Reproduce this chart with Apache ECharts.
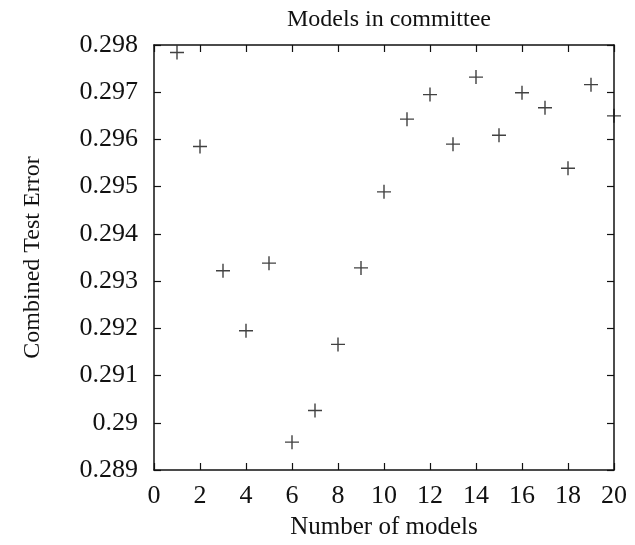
<!DOCTYPE html>
<html>
<head>
<meta charset="utf-8">
<style>
  html, body { margin: 0; padding: 0; background: #fff; }
  #chart { width: 635px; height: 545px; }
</style>
<script src="https://cdn.jsdelivr.net/npm/echarts@6/dist/echarts.min.js"></script>
</head>
<body>
<div id="chart"></div>
<script>
// Committee size vs. combined test error
const modelCounts = [1, 2, 3, 4, 5, 6, 7, 8, 9, 10, 11, 12, 13, 14, 15, 16, 17, 18, 19, 20];
const testErrors = [
  0.29784, 0.29585, 0.29322, 0.29195, 0.29338, 0.28959, 0.29026, 0.29166, 0.29328, 0.29489,
  0.29643, 0.29695, 0.29590, 0.29732, 0.29609, 0.29699, 0.29667, 0.29539, 0.29716, 0.29650
];
const xTickLabels = ['0', '2', '4', '6', '8', '10', '12', '14', '16', '18', '20'];
const yTickLabels = ['0.289', '0.29', '0.291', '0.292', '0.293', '0.294', '0.295', '0.296', '0.297', '0.298'];

const X_MIN = 0, X_MAX = 20, X_STEP = 2;
const Y_MIN = 0.289, Y_MAX = 0.298, Y_STEP = 0.001;

const FONT = '"Liberation Serif", "DejaVu Serif", serif';
const INK = '#111';

// thin "+" glyph, filled as a polygon so it renders crisply
const PLUS = 'path://M6.3,0H7.7V6.3H14V7.7H7.7V14H6.3V7.7H0V6.3H6.3Z';

const xLabel = v => xTickLabels[Math.round((v - X_MIN) / X_STEP)] ?? '';
const yLabel = v => yTickLabels[Math.round((v - Y_MIN) / Y_STEP)] ?? '';

const frameLine = { show: true, onZero: false, lineStyle: { color: INK, width: 1.5 } };
const innerTick = { show: true, inside: true, length: 7, lineStyle: { color: INK, width: 1.2 } };

const chart = echarts.init(document.getElementById('chart'), null, { renderer: 'canvas' });
chart.setOption({
  animation: false,
  backgroundColor: '#fff',
  title: {
    text: 'Models in committee',
    left: 384,
    top: 3,
    textAlign: 'center',
    textStyle: { fontFamily: FONT, fontSize: 24, fontWeight: 'normal', color: INK }
  },
  grid: { left: 154, right: 21, top: 45, bottom: 71, containLabel: false },
  xAxis: [
    {
      type: 'value', position: 'bottom',
      min: X_MIN, max: X_MAX, interval: X_STEP,
      name: 'Number of models', nameLocation: 'middle', nameGap: 45,
      nameTextStyle: { fontFamily: FONT, fontSize: 25, color: INK },
      axisLine: frameLine, axisTick: innerTick, splitLine: { show: false },
      axisLabel: { formatter: xLabel, fontFamily: FONT, fontSize: 26, color: INK, margin: 13 }
    },
    {
      type: 'value', position: 'top',
      min: X_MIN, max: X_MAX, interval: X_STEP,
      axisLine: frameLine, axisTick: innerTick, splitLine: { show: false },
      axisLabel: { show: false }
    }
  ],
  yAxis: [
    {
      type: 'value', position: 'left',
      min: Y_MIN, max: Y_MAX, interval: Y_STEP,
      name: 'Combined Test Error', nameLocation: 'middle', nameGap: 109, nameRotate: 90,
      nameTextStyle: { fontFamily: FONT, fontSize: 24, color: INK },
      axisLine: frameLine, axisTick: innerTick, splitLine: { show: false },
      axisLabel: { formatter: yLabel, fontFamily: FONT, fontSize: 26, color: INK, margin: 16 }
    },
    {
      type: 'value', position: 'right',
      min: Y_MIN, max: Y_MAX, interval: Y_STEP,
      axisLine: frameLine, axisTick: innerTick, splitLine: { show: false },
      axisLabel: { show: false }
    }
  ],
  series: [
    {
      type: 'scatter',
      xAxisIndex: 0, yAxisIndex: 0,
      symbol: PLUS,
      symbolSize: 14,
      itemStyle: { color: INK },
      data: modelCounts.map((n, i) => [n, testErrors[i]]),
      clip: false
    }
  ]
});
</script>
</body>
</html>
